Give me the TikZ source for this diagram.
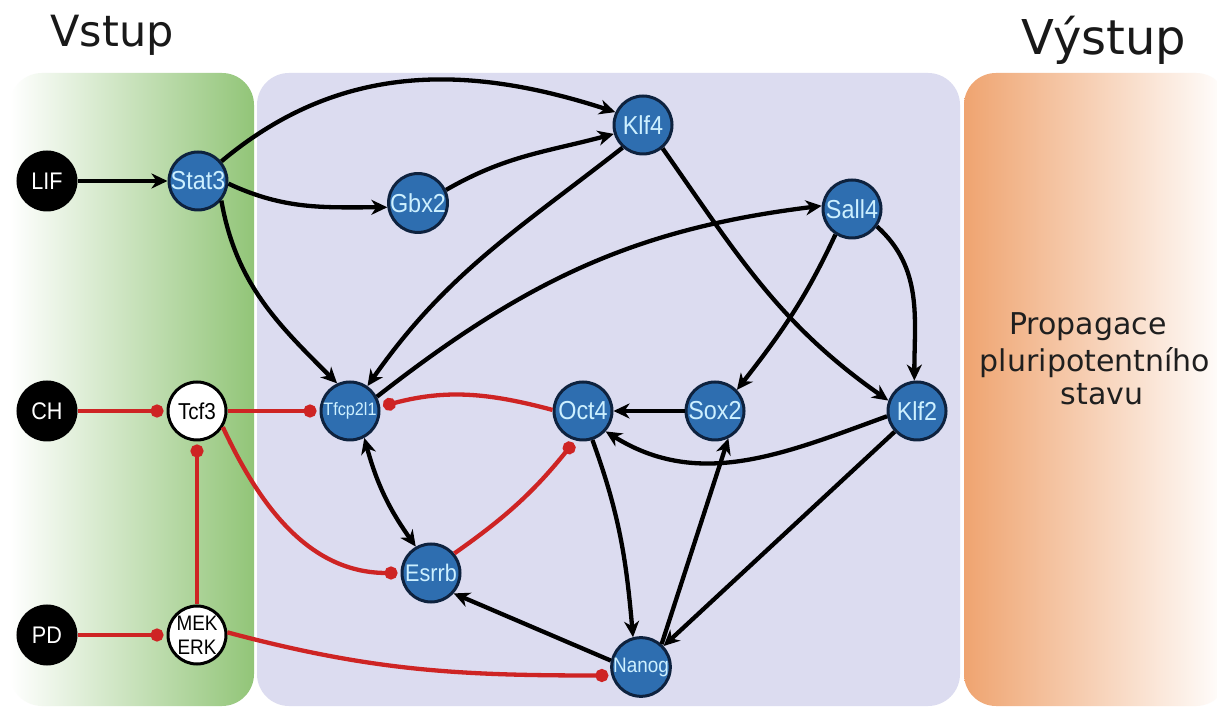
\documentclass[tikz,border=0pt]{standalone}
\usepackage{fontspec}
\setmainfont{DejaVu Sans}
\newfontfamily\genefont[FakeStretch=0.9]{Liberation Sans}
\usetikzlibrary{arrows.meta}
\definecolor{genefill}{RGB}{46,110,176}
\definecolor{geneline}{RGB}{14,34,62}
\definecolor{genetext}{RGB}{205,240,255}
\definecolor{inhib}{RGB}{206,36,36}
\definecolor{lav}{RGB}{220,220,240}
\definecolor{grn}{RGB}{146,197,120}
\definecolor{grnmid}{RGB}{190,224,170}
\definecolor{org}{RGB}{239,164,112}
\begin{document}
\begin{tikzpicture}[x=1pt,y=1pt,
  gene/.style={circle, minimum size=58pt, inner sep=0pt, line width=3pt,
    draw=geneline, fill=genefill, text=genetext,
    font=\genefont\fontsize{26}{28}\selectfont},
  signal/.style={gene, fill=black, draw=black, text=white,
    font=\genefont\fontsize{24}{26}\selectfont},
  relay/.style={gene, fill=white, draw=black, text=black},
  act/.style={line width=4.3pt, -{Stealth[length=16pt,width=15pt,inset=5pt]}},
  both/.style={line width=4.3pt, {Stealth[length=16pt,width=15pt,inset=5pt]}-{Stealth[length=16pt,width=15pt,inset=5pt]}},
  inh/.style={line width=4.3pt, draw=inhib, -{Circle[length=13pt]}, shorten >=3pt},
  title/.style={font=\fontsize{43}{47}\selectfont, text=black!90, anchor=base},
  outtext/.style={font=\fontsize{30}{35}\selectfont, text=black!88, anchor=base},
]
\useasboundingbox (0,0) rectangle (1217,709);
\fill[white] (0,0) rectangle (1217,709);

% background panels: input, network, output
\shade[left color=white, middle color=grnmid, right color=grn, rounded corners=32pt] (10,3) rectangle (254,636);
\fill[lav, rounded corners=32pt] (257,3) rectangle (960,636);
\shade[left color=org, right color=white, rounded corners=32pt] (964,3) rectangle (1228,636);

% headings
\node[title] (vstup) at (112,662) {Vstup};
\node[title, font=\fontsize{48}{52}\selectfont] (vystup) at (1104,654) {Výstup};
\node[outtext] (out1) at (1088,374) {Propagace};
\node[outtext] (out2) at (1095,337) {pluripotentního};
\node[outtext] (out3) at (1102,304) {stavu};

% signals and transcription factors
\node[signal] (lif) at (47,528) {LIF};
\node[gene] (stat3) at (198,528) {Stat3};
\node[gene] (klf4) at (643,584) {Klf4};
\node[gene] (gbx2) at (418,506) {Gbx2};
\node[gene] (sall4) at (852,500) {Sall4};
\node[signal] (ch) at (47,298) {CH};
\node[relay, font=\genefont\fontsize{23}{25}\selectfont] (tcf3) at (197,298) {Tcf3};
\node[gene, font=\genefont\fontsize{18}{20}\selectfont] (tfcp) at (350,298) {Tfcp2l1};
\node[gene] (oct4) at (583,298) {Oct4};
\node[gene] (sox2) at (715,298) {Sox2};
\node[gene] (klf2) at (917,298) {Klf2};
\node[gene, font=\genefont\fontsize{24}{26}\selectfont] (esrrb) at (431,136) {Esrrb};
\node[signal] (pd) at (47,74) {PD};
\node[relay, align=center, font=\genefont\fontsize{21}{24}\selectfont] (mek) at (197,74) {MEK\\ERK};
\node[gene, font=\genefont\fontsize{21}{23}\selectfont] (nanog) at (641,42) {Nanog};

% activation
\draw[act] (lif) -- (stat3);
\draw[act] (stat3.40) to[out=40, in=162] (klf4.155);
\draw[act] (stat3.-5) to[out=-25, in=180] (gbx2.188);
\draw[act] (stat3.-40) to[out=-80, in=135] (tfcp.115);
\draw[act] (gbx2.25) to[out=30, in=195] (klf4.197);
\draw[act] (klf4.228) to[out=218, in=55] (tfcp.55);
\draw[act] (klf4.-50) to[out=-55, in=145] (klf2.160);
\draw[act] (tfcp.28) to[out=38, in=187] (sall4.174);
\draw[act] (sall4.237) to[out=245, in=52] (sox2.44);
\draw[act] (sall4.-35) to[out=-42, in=90] (klf2.95);
\draw[act] (sox2) -- (oct4);
\draw[act] (klf2.190) to[out=200, in=-32] (oct4.-42);
\draw[act] (klf2) -- (nanog);
\draw[act] (oct4.-72) to[out=-70, in=95] (nanog.105);
\draw[act] (nanog.48) -- (sox2.-64);
\draw[act] (nanog.168) -- (esrrb.-42);
\draw[both] (tfcp.-62) to[bend right=10] (esrrb.120);

% inhibition
\draw[inh] (ch) -- (tcf3);
\draw[inh] (tcf3) -- (tfcp);
\draw[inh] (oct4.178) to[out=165, in=15] (tfcp.8);
\draw[inh] (tcf3.-32) to[out=-65, in=180] (esrrb);
\draw[inh] (esrrb.40) to[bend right=8] (oct4.-105);
\draw[inh] (mek) -- (tcf3);
\draw[inh] (pd) -- (mek);
\draw[inh] (mek.5) to[out=-15, in=180] (nanog.196);
\end{tikzpicture}
\end{document}
